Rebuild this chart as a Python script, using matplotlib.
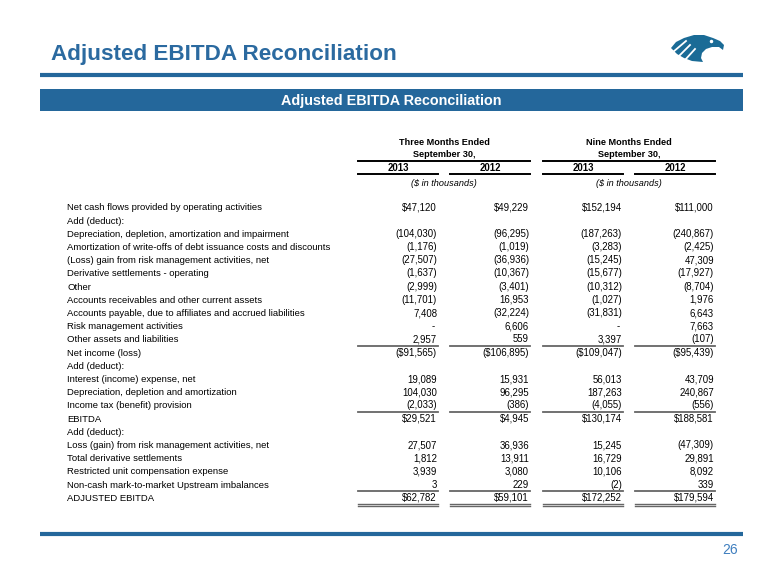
import matplotlib
matplotlib.use("Agg")
import matplotlib.pyplot as plt
from matplotlib.patches import Polygon, Rectangle

plt.rcParams['font.family'] = ['Liberation Sans', 'DejaVu Sans']

# ---- data ----
title = "Adjusted EBITDA Reconciliation"
period_heads = [("Three Months Ended", "September 30,"), ("Nine Months Ended", "September 30,")]
years = ["2013", "2012", "2013", "2012"]

labels = [
    "Net cash flows provided by operating activities",
    "Add (deduct):",
    "Depreciation, depletion, amortization and impairment",
    "Amortization of write-offs of debt issuance costs and discounts",
    "(Loss) gain from risk management activities, net",
    "Derivative settlements - operating",
    "Other",
    "Accounts receivables and other current assets",
    "Accounts payable, due to affiliates and accrued liabilities",
    "Risk management activities",
    "Other assets and liabilities",
    "Net income (loss)",
    "Add (deduct):",
    "Interest (income) expense, net",
    "Depreciation, depletion and amortization",
    "Income tax (benefit) provision",
    "EBITDA",
    "Add (deduct):",
    "Loss (gain) from risk management activities, net",
    "Total derivative settlements",
    "Restricted unit compensation expense",
    "Non-cash mark-to-market Upstream imbalances",
    "ADJUSTED EBITDA",
]
# None = blank cell, 0 = shown as "-"
q3_2013 = [47120, None, -104030, -1176, -27507, -1637, -2999, -11701, 7408, 0, 2957,
           -91565, None, 19089, 104030, -2033, 29521, None, 27507, 1812, 3939, 3, 62782]
q3_2012 = [49229, None, -96295, -1019, -36936, -10367, -3401, 16953, -32224, 6606, 559,
           -106895, None, 15931, 96295, -386, 4945, None, 36936, 13911, 3080, 229, 59101]
ytd_2013 = [152194, None, -187263, -3283, -15245, -15677, -10312, -1027, -31831, 0, 3397,
            -109047, None, 56013, 187263, -4055, 130174, None, 15245, 16729, 10106, -2, 172252]
ytd_2012 = [111000, None, -240867, -2425, 47309, -17927, -8704, 1976, 6643, 7663, -107,
            -95439, None, 43709, 240867, -556, 188581, None, -47309, 29891, 8092, 339, 179594]
dollar_rows = [0, 11, 16, 22]
total_rows = [11, 16, 22]


def fmt(v, dollar):
    if v is None:
        return ""
    if v == 0:
        return "-"
    s = ("$" if dollar else "") + f"{abs(v):,}"
    return f"({s})" if v < 0 else s


blue = "#24679b"
fig = plt.figure(figsize=(7.8, 5.85), dpi=100)
ax = fig.add_axes([0, 0, 1, 1])
ax.set_xlim(0, 780)
ax.set_ylim(585, 0)
ax.axis("off")

# slide header
ax.text(51, 60, title, fontsize=16.2, fontweight="bold", color="#2b6aa0", va="baseline")
ax.plot([40, 743], [75, 75], color=blue, lw=3, solid_capstyle="butt")
ax.add_patch(Rectangle((40, 89), 703, 22, color=blue, lw=0))
ax.text(391, 104.5, title, fontsize=10.4, fontweight="bold", color="white", ha="center", va="baseline")

# eagle logo (rough)
head = [(671, 48), (676, 42), (684, 38), (694, 35), (704, 35), (713, 38), (720, 41),
        (724, 45), (723, 50), (719, 47), (712, 47), (706, 49), (702, 53), (701, 58),
        (703, 62), (692, 61), (684, 58), (677, 54)]
ax.add_patch(Polygon(head, closed=True, color="#1a6b96", lw=0))
for x0, y0, x1, y1 in [(673, 52, 686, 41), (678, 57, 690, 45), (685, 60, 695, 49)]:
    ax.plot([x0, x1], [y0, y1], color="white", lw=1.3)
ax.plot([711], [41], marker="o", ms=1.5, color="white")

# table geometry
fs = 6.9
half_cap = 3.4
col_l = [358, 450, 543, 635]
col_r = [438, 530, 623, 715]
row0, dy = 207, 13.2

for k, (l1, l2) in enumerate(period_heads):
    xa, xb = col_l[2 * k], col_r[2 * k + 1]
    xm = (xa + xb) / 2
    ax.text(xm, 141.7 + half_cap, l1, fontsize=6.6, fontweight="bold", ha="center", va="baseline")
    ax.text(xm, 153.3 + half_cap, l2, fontsize=6.6, fontweight="bold", ha="center", va="baseline")
    ax.plot([xa, xb], [160.5, 160.5], color="black", lw=1.4)
    ax.text(xm, 182.3 + half_cap, "($ in thousands)", fontsize=6.6, style="italic",
            ha="center", va="baseline")
for j, yr in enumerate(years):
    ax.text((col_l[j] + col_r[j]) / 2, 167.7 + half_cap, yr, fontsize=fs, fontweight="bold",
            ha="center", va="baseline")
    ax.plot([col_l[j], col_r[j]], [174.3, 174.3], color="black", lw=1.4)

cols = [q3_2013, q3_2012, ytd_2013, ytd_2012]
for i, lab in enumerate(labels):
    y = row0 + i * dy
    ax.text(67, y + half_cap, lab, fontsize=6.8, va="baseline")
    for j, col in enumerate(cols):
        s = fmt(col[i], i in dollar_rows)
        if s == "-":
            ax.text(col_r[j] - 3, y + half_cap, s, fontsize=fs, ha="right", va="baseline")
        elif s:
            ax.text(col_r[j] - 1, y + half_cap, s, fontsize=fs, ha="right", va="baseline")
    if i in total_rows:
        for j in range(4):
            ax.plot([col_l[j], col_r[j]], [y - 6.6, y - 6.6], color="#666666", lw=1.3)

yb = row0 + 22 * dy + 6.7
for j in range(4):
    ax.plot([col_l[j], col_r[j]], [yb, yb], color="#666666", lw=1.0)
    ax.plot([col_l[j], col_r[j]], [yb + 2.1, yb + 2.1], color="#666666", lw=1.0)

# footer
ax.plot([40, 743], [534, 534], color=blue, lw=3, solid_capstyle="butt")
ax.text(730, 554, "26", fontsize=10, color="#3f7fbf", ha="center", va="baseline")

fig.savefig("out.png", dpi=100)
